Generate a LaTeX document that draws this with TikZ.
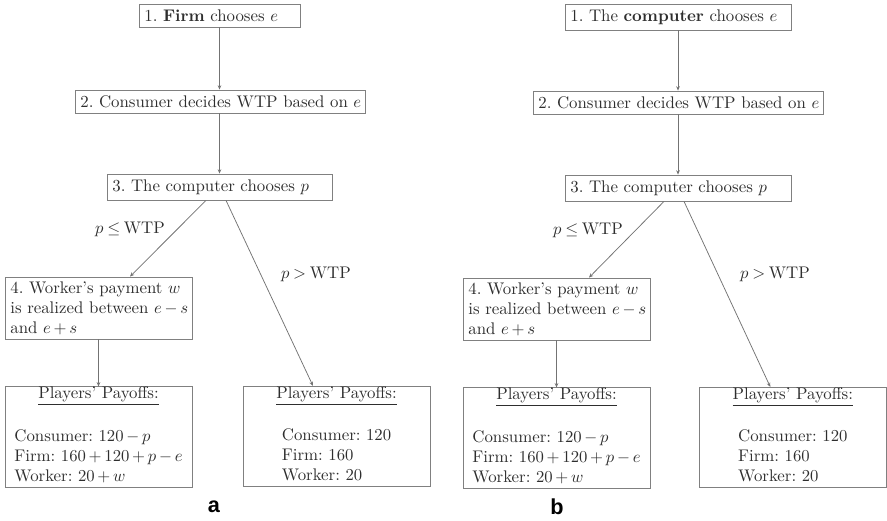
\documentclass[tikz,border=0pt]{standalone}
\usepackage{fontspec}
\newfontfamily\panelfont{Liberation Sans}
\usetikzlibrary{arrows.meta,calc}
\definecolor{inkgray}{gray}{0.18}
\definecolor{framegray}{gray}{0.5}
\definecolor{wiregray}{gray}{0.45}
\frenchspacing
\medmuskip=3mu plus 1mu minus 2mu
\thickmuskip=4mu plus 2mu
\begin{document}
\begin{tikzpicture}[x=0.6pt,y=-0.6pt,
  every node/.style={text=inkgray, font=\fontsize{10.1}{12}\selectfont},
  stage/.style={draw=framegray, line width=0.5pt, inner xsep=3.2pt, inner ysep=0pt, align=left},
  payoff/.style={draw=framegray, line width=0.5pt, inner xsep=3.2pt, inner ysep=0pt,
    align=center, text width=105.8pt, minimum height=60pt},
  conn/.style={draw=wiregray, line width=0.45pt, -{Stealth[length=2.6pt,width=2.2pt]}},
  cond/.style={inner sep=1pt},
  panel/.style={font=\panelfont\bfseries\fontsize{13}{15}\selectfont, text=black}]
\useasboundingbox (0,0) rectangle (887,520);

% ---------- panel a ----------
\node[stage, text width=90.2pt, minimum height=13.8pt] (a1) at (219.5,15.5) {\mbox{1. \textbf{Firm} chooses $e$}};
\node[stage, text width=167.6pt, minimum height=13.8pt] (a2) at (220,101.5) {\mbox{2. Consumer decides WTP based on $e$}};
\node[stage, text width=128.6pt, minimum height=15.6pt] (a3) at (219.5,187) {\mbox{3. The computer chooses $p$}};
\node[stage, text width=105.8pt, minimum height=37.2pt] (a4) at (98.5,308)
  {\mbox{4. Worker's payment $w$}\\ \mbox{is realized between $e-s$}\\ \mbox{and $e+s$}};
\node[payoff] (a5) at (98.5,437)
  {\underline{Players' Payoffs:}\\[12pt]\begin{tabular}[t]{@{}l@{}}Consumer: $120-p$\\ Firm: $160+120+p-e$\\ Worker: $20+w$\end{tabular}};
\node[payoff, minimum height=59.4pt] (a6) at (336.5,436.5)
  {\underline{Players' Payoffs:}\\[12pt]\begin{tabular}[t]{@{}l@{}}Consumer: $120$\\ Firm: $160$\\ Worker: $20$\end{tabular}};

\draw[conn] (a1.south) -- (a1.south |- a2.north);
\draw[conn] (a1.south |- a2.south) -- (a1.south |- a3.north);
\draw[conn] ($(a3.south)+(-13.5,0)$) -- ($(a4.north)+(31.5,0)$);
\draw[conn] ($(a3.south)+(6.5,0)$) -- ($(a6.north)+(-23.5,0)$);
\draw[conn] (a4.south) -- (a5.north);

\node[cond] (a3le) at (130,229) {$p\leq\mathrm{WTP}$};
\node[cond] (a3gt) at (316,274) {$p>\mathrm{WTP}$};
\node[panel] (pa) at (214,507) {a};

% ---------- panel b ----------
\node[stage, text width=129.2pt, minimum height=15.6pt] (b1) at (678,17) {\mbox{1. The \textbf{computer} chooses $e$}};
\node[stage, text width=167.6pt, minimum height=13.8pt] (b2) at (678,102.5) {\mbox{2. Consumer decides WTP based on $e$}};
\node[stage, text width=129.2pt, minimum height=15.6pt] (b3) at (678,188) {\mbox{3. The computer chooses $p$}};
\node[stage, text width=105.8pt, minimum height=37.2pt] (b4) at (556.5,309)
  {\mbox{4. Worker's payment $w$}\\ \mbox{is realized between $e-s$}\\ \mbox{and $e+s$}};
\node[payoff] (b5) at (556.5,438)
  {\underline{Players' Payoffs:}\\[12pt]\begin{tabular}[t]{@{}l@{}}Consumer: $120-p$\\ Firm: $160+120+p-e$\\ Worker: $20+w$\end{tabular}};
\node[payoff, minimum height=59.4pt] (b6) at (792.8,437.5)
  {\underline{Players' Payoffs:}\\[12pt]\begin{tabular}[t]{@{}l@{}}Consumer: $120$\\ Firm: $160$\\ Worker: $20$\end{tabular}};

\draw[conn] (b1.south) -- (b1.south |- b2.north);
\draw[conn] (b1.south |- b2.south) -- (b1.south |- b3.north);
\draw[conn] ($(b3.south)+(-14,0)$) -- ($(b4.north)+(32.5,0)$);
\draw[conn] ($(b3.south)+(6,0)$) -- ($(b6.north)+(-22.5,0)$);
\draw[conn] (b4.south) -- (b5.north);

\node[cond] (b3le) at (588,230) {$p\leq\mathrm{WTP}$};
\node[cond] (b3gt) at (775,274) {$p>\mathrm{WTP}$};
\node[panel] (pb) at (557,507) {b};
\end{tikzpicture}
\end{document}
